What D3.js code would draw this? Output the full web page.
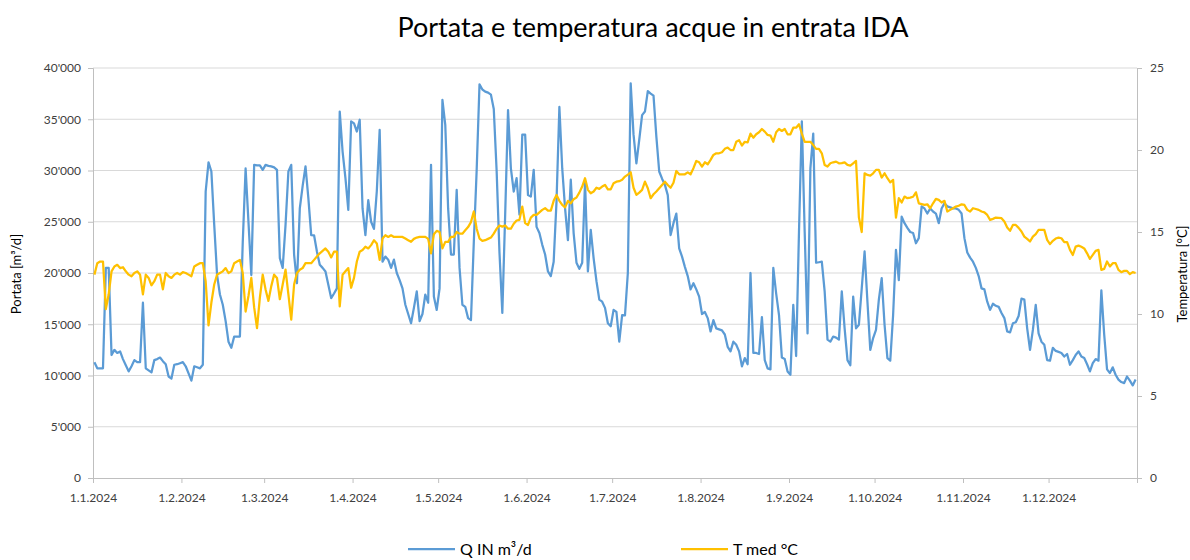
<!DOCTYPE html>
<html><head><meta charset="utf-8">
<script src="https://cdn.jsdelivr.net/npm/d3@7"></script>
<style>
body{margin:0;background:#fff;}
svg{display:block;font-family:Lato,"Open Sans",sans-serif;}
</style>
</head><body>
<svg id="chart" width="1190" height="560"></svg>
<script>
// ---- data (one value per day, 1.1.2024 .. 31.12.2024) ----
const startYear = 2024;
const qIn = [
 11300,10700,10700,10700,20500,20500,12000,12500,12200,12350,11600,11000,10400,10900,11500,11300,11300,17100,10700,10500,10300,11500,11600,11750,11400,11100,9900,9700,11050,11100,11200,
 11300,10900,10200,9500,10900,10800,10700,11050,27950,30800,29900,24700,19800,17900,16900,15300,13300,12700,13800,13800,13800,23000,30200,25000,19800,30550,30500,30500,30060,
 30550,30450,30400,30300,30060,21450,20500,24700,29900,30550,21800,19000,26300,28500,30400,27300,23700,23680,22100,20800,20500,20150,18850,17550,18000,18500,35750,31850,29250,26160,34800,
 34600,33800,34950,26300,23700,27100,25000,24300,28000,33960,21100,21600,21300,20500,21300,20000,19300,18500,16900,16000,15100,16600,18200,15300,16000,17900,17100,30550,17700,16400,
 18500,36900,34450,26300,21800,21800,28100,20500,16900,16700,15600,15400,23000,30000,38400,37900,37700,37600,37400,36000,30000,22000,16100,25700,35900,30200,27950,29250,25700,33500,33500,
 27600,27460,30060,24500,23900,22750,21800,20150,19700,21100,27000,36200,30200,26300,23200,29100,23900,21000,20400,21000,28900,20150,24200,21450,19200,17400,17200,16600,15100,14800,
 16400,16200,13300,15900,15860,20000,38500,33500,30700,33000,35400,35750,37750,37500,37300,33300,29900,29200,28600,27600,23700,24860,25800,22400,21600,20600,19700,18400,19000,18400,17700,
 16000,16200,15600,14300,15400,14600,14500,14400,14000,12800,12350,13300,13000,12350,10900,11700,11100,20000,12200,12200,12100,15700,11500,10700,10600,20500,18000,15900,11750,11600,10400,
 10075,16900,11900,24000,34800,24000,14100,30200,33600,21000,21050,21100,18200,13500,13300,13800,13700,13500,18200,14600,11500,11000,17700,14600,14950,18500,22100,17200,12500,13650,
 14450,17400,19500,14950,11700,11450,15900,22260,19300,25500,24860,24400,24000,23900,22900,23400,26500,26300,25800,26300,26000,25800,24860,26300,26800,26500,26400,26300,26300,26160,25800,
 23400,22000,21500,21100,20500,19700,18500,18400,17200,16400,17000,16800,16700,16100,15600,14300,14200,15100,15200,15800,17500,17400,14600,12500,14450,16900,14100,13300,13000,11500,
 11450,12700,12400,12300,12200,11850,12100,11050,11500,12000,12350,11850,11700,11100,10400,11200,11600,11450,18300,14000,10600,10250,10800,10075,9600,9360,9260,9900,9500,9035,9600
];
const tMed = [
 12.4,13.1,13.2,13.2,10.3,11.2,12.6,12.9,13.0,12.8,12.85,12.6,12.4,12.3,12.5,12.6,12.4,11.2,12.4,12.2,11.75,12.0,12.4,12.4,11.5,12.5,12.3,12.2,12.4,12.5,12.4,
 12.55,12.5,12.4,12.3,12.9,13.0,13.1,13.1,12.0,9.3,10.7,11.8,12.4,12.5,12.6,12.8,12.5,12.6,13.1,13.2,13.3,12.5,10.15,11.1,12.2,10.4,9.14,11.0,12.4,
 11.5,10.8,11.7,12.4,12.2,10.9,11.8,12.7,11.2,9.65,11.8,12.5,12.7,12.8,13.1,13.1,13.1,13.3,13.5,13.7,13.85,14.0,13.8,13.45,13.8,13.8,10.46,12.4,12.6,12.8,11.6,
 12.2,13.2,13.8,13.9,14.1,14.0,14.2,14.5,14.3,13.3,14.6,14.8,14.7,14.8,14.7,14.7,14.7,14.7,14.6,14.5,14.4,14.58,14.66,14.7,14.7,14.7,14.58,13.7,14.86,15.07,
 15.0,14.0,14.4,14.4,14.7,14.7,15.0,14.9,14.9,15.1,15.3,15.6,16.25,15.2,14.6,14.46,14.5,14.58,14.66,14.9,15.2,15.4,15.33,15.4,15.2,15.2,15.5,15.7,15.74,16.55,15.54,
 15.43,15.88,16.04,16.04,16.2,16.35,16.45,16.3,16.3,16.9,17.26,16.9,16.65,16.5,16.9,16.75,17.0,17.1,17.4,17.77,18.28,17.57,17.36,17.47,17.7,17.63,17.77,17.87,17.6,17.6,
 17.97,18.07,18.1,18.18,18.38,18.5,18.64,17.7,17.26,17.4,17.57,18.07,17.67,17.06,17.3,17.47,17.67,17.87,18.07,17.87,17.7,18.0,18.72,18.52,18.52,18.52,18.64,18.52,18.89,19.33,19.25,
 18.99,19.25,19.13,19.4,19.7,19.8,19.8,19.86,20.07,20.15,20.0,20.0,20.5,20.6,20.27,20.5,20.47,21.0,20.75,20.96,21.08,21.28,21.12,20.92,20.88,20.5,21.08,21.28,21.16,21.28,20.96,
 20.96,21.36,21.36,21.57,21.0,20.5,20.5,20.5,20.3,20.07,20.07,19.8,19.09,18.99,19.19,19.25,19.29,19.19,19.2,19.25,19.09,19.05,19.19,19.33,15.9,15.0,18.58,18.48,18.44,18.58,
 18.79,18.79,18.32,18.58,18.28,18.03,18.18,15.88,17.06,16.8,17.16,17.06,17.1,17.15,17.42,16.75,16.7,16.65,16.69,16.45,16.75,17.02,16.96,16.8,16.9,16.25,16.35,16.45,16.55,16.6,16.69,
 16.65,16.35,16.25,16.45,16.4,16.35,16.25,16.2,16.04,15.74,15.8,15.88,15.86,15.84,15.64,15.27,15.07,15.43,15.43,15.25,15.03,14.72,14.58,14.42,14.72,14.87,15.13,15.13,15.13,14.52,
 14.26,14.46,14.6,14.66,14.62,14.38,14.38,13.91,13.6,14.11,14.17,14.1,14.0,13.7,13.36,13.6,13.85,13.91,12.69,12.75,13.2,12.9,13.1,13.1,12.69,12.55,12.63,12.63,12.43,12.55,12.5
];
const qTicks = [0,5000,10000,15000,20000,25000,30000,35000,40000];
const tTicks = [0,5,10,15,20,25];
const monthStarts = ["2024-01-01","2024-02-01","2024-03-01","2024-04-01","2024-05-01","2024-06-01","2024-07-01","2024-08-01","2024-09-01","2024-10-01","2024-11-01","2024-12-01"];
const titleText = "Portata e temperatura acque in entrata IDA";
const seriesNames = ["Q IN m³/d","T med °C"];
const axisTitles = ["Portata [m³/d]","Temperatura [°C]"];
const colors = ["#5B9BD5","#FFC000"];

// ---- layout ----
const L = 93, R = 1137, T = 68, B = 478;
const svg = d3.select("#chart");
const dates = qIn.map((_, i) => new Date(Date.UTC(startYear, 0, 1 + i, 12)));
const x = d3.scaleUtc().domain([new Date(Date.UTC(startYear,0,1)), new Date(Date.UTC(startYear+1,0,1))]).range([L, R]);
const yQ = d3.scaleLinear().domain([0, 40000]).range([B, T]);
const yT = d3.scaleLinear().domain([0, 25]).range([B, T]);
const loc = d3.formatLocale({decimal:".", thousands:"'", grouping:[3], currency:["",""]});
const fmtQ = loc.format(",");

// gridlines
svg.append("g").selectAll("line").data(qTicks.slice(1)).join("line")
  .attr("x1", L).attr("x2", R).attr("y1", d => yQ(d)).attr("y2", d => yQ(d))
  .attr("stroke", "#d9d9d9").attr("stroke-width", 1);

// left axis
const gL = svg.append("g").attr("transform", `translate(${L},0)`)
  .call(d3.axisLeft(yQ).tickValues(qTicks).tickFormat(fmtQ).tickSize(5).tickPadding(7));
// right axis
const gR = svg.append("g").attr("transform", `translate(${R},0)`)
  .call(d3.axisRight(yT).tickValues(tTicks).tickSize(5).tickPadding(8));
// bottom axis
const monthDates = monthStarts.map(s => new Date(s + "T00:00:00Z"));
const gB = svg.append("g").attr("transform", `translate(0,${B})`)
  .call(d3.axisBottom(x).tickValues(monthDates)
    .tickFormat(d => `${d.getUTCDate()}.${d.getUTCMonth()+1}.${d.getUTCFullYear()}`)
    .tickSize(5).tickPadding(10));
[gL, gR, gB].forEach(g => {
  g.select(".domain").attr("stroke", "#bfbfbf");
  g.selectAll(".tick line").attr("stroke", "#bfbfbf");
  g.selectAll("text").attr("fill", "#404040").attr("font-size", 12)
    .attr("font-family", "Lato, 'Open Sans', sans-serif");
});

// lines
const lineQ = d3.line().x((d, i) => x(dates[i])).y(d => yQ(d));
const lineT = d3.line().x((d, i) => x(dates[i])).y(d => yT(d));
svg.append("path").datum(qIn).attr("d", lineQ).attr("fill", "none")
  .attr("stroke", colors[0]).attr("stroke-width", 2.25).attr("stroke-linejoin", "round");
svg.append("path").datum(tMed).attr("d", lineT).attr("fill", "none")
  .attr("stroke", colors[1]).attr("stroke-width", 2.25).attr("stroke-linejoin", "round");

// title
svg.append("text").attr("x", 653).attr("y", 37).attr("text-anchor", "middle")
  .attr("font-size", 27).attr("fill", "#000").text(titleText);

// axis titles
svg.append("text").attr("transform", "translate(21,274) rotate(-90)").attr("text-anchor", "middle")
  .attr("font-size", 13).attr("fill", "#000").text(axisTitles[0]);
svg.append("text").attr("transform", "translate(1187,274) rotate(-90)").attr("text-anchor", "middle")
  .attr("font-size", 13).attr("fill", "#000").text(axisTitles[1]);

// legend
const legX = [408, 681];
seriesNames.forEach((name, k) => {
  svg.append("line").attr("x1", legX[k]).attr("x2", legX[k] + 47).attr("y1", 549).attr("y2", 549)
    .attr("stroke", colors[k]).attr("stroke-width", 2.25);
  svg.append("text").attr("x", legX[k] + 52).attr("y", 555).attr("font-size", 16)
    .attr("fill", "#000").text(name);
});
</script>
</body></html>
